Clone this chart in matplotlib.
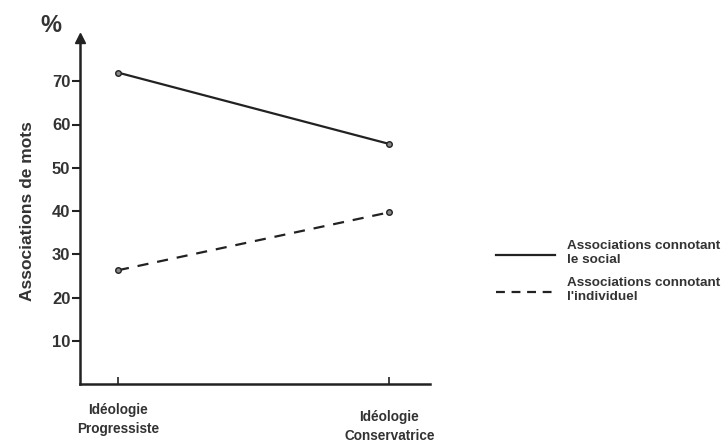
import matplotlib
matplotlib.use("Agg")
import matplotlib.pyplot as plt
from matplotlib.lines import Line2D

categories = ["Idéologie\nProgressiste", "Idéologie\nConservatrice"]
social = [72, 55.5]
individuel = [26.3, 39.7]
yticks = [10, 20, 30, 40, 50, 60, 70]
legend_labels = ["Associations connotant\nle social", "Associations connotant\nl'individuel"]

plt.rcParams['font.family'] = ['Liberation Sans', 'DejaVu Sans']
fig = plt.figure(figsize=(7.26, 4.42), dpi=100)
ax = fig.add_axes([80/726, 1-384/442, 350/726, 346/442])

x = list(range(len(categories)))
ax.plot(x, social, '-', color='#222222', lw=1.6, marker='o', ms=4,
        mfc='#888888', mec='#222222', mew=1)
ax.plot(x, individuel, '--', color='#222222', lw=1.6, dashes=(5, 4), marker='o', ms=4,
        mfc='#888888', mec='#222222', mew=1)

ax.set_xlim(-0.14, 1.15)
ax.set_ylim(0, 80)
ax.set_yticks(yticks)
ax.set_yticklabels([str(v) for v in yticks], fontsize=12, fontweight='bold', color='#333333')
ax.set_xticks(x)
ax.set_xticklabels([])
ax.tick_params(axis='x', direction='in', length=5, width=1.2, color='#222222')
ax.tick_params(axis='y', direction='out', length=6, width=1.5, color='#222222', pad=1)
for s in ['top', 'right']:
    ax.spines[s].set_visible(False)
for s in ['left', 'bottom']:
    ax.spines[s].set_linewidth(1.8)
    ax.spines[s].set_color('#222222')
ax.plot([0], [1], marker='^', ms=7, color='#222222', transform=ax.transAxes, clip_on=False)

# x category labels
offs = [0.0, -0.02]
for xi, lab, o in zip(x, categories, offs):
    ax.text(xi, -0.055 + o, lab, transform=ax.get_xaxis_transform(), ha='center', va='top',
            fontsize=9.8, fontweight='bold', color='#333333', linespacing=1.45)

ax.set_ylabel("Associations de mots", fontsize=12.5, fontweight='bold', color='#333333', labelpad=12)
fig.text(40/726, 1-25/442, "%", fontsize=17, fontweight='bold', color='#333333', ha='left', va='center')

# legend
leg_y = [255, 292]
styles = ['-', '--']
for yy, st, lab in zip(leg_y, styles, legend_labels):
    fy = 1 - yy/442
    ln = Line2D([496/726, 555/726], [fy, fy], transform=fig.transFigure, color='#222222',
                lw=1.6, linestyle=st, dashes=(4, 3) if st == '--' else (None, None))
    fig.add_artist(ln)
    fig.text(567/726, fy + 2/442, lab, fontsize=9.7, fontweight='bold', color='#333333',
             ha='left', va='center', linespacing=1.25)

fig.savefig("out.png", dpi=100)
